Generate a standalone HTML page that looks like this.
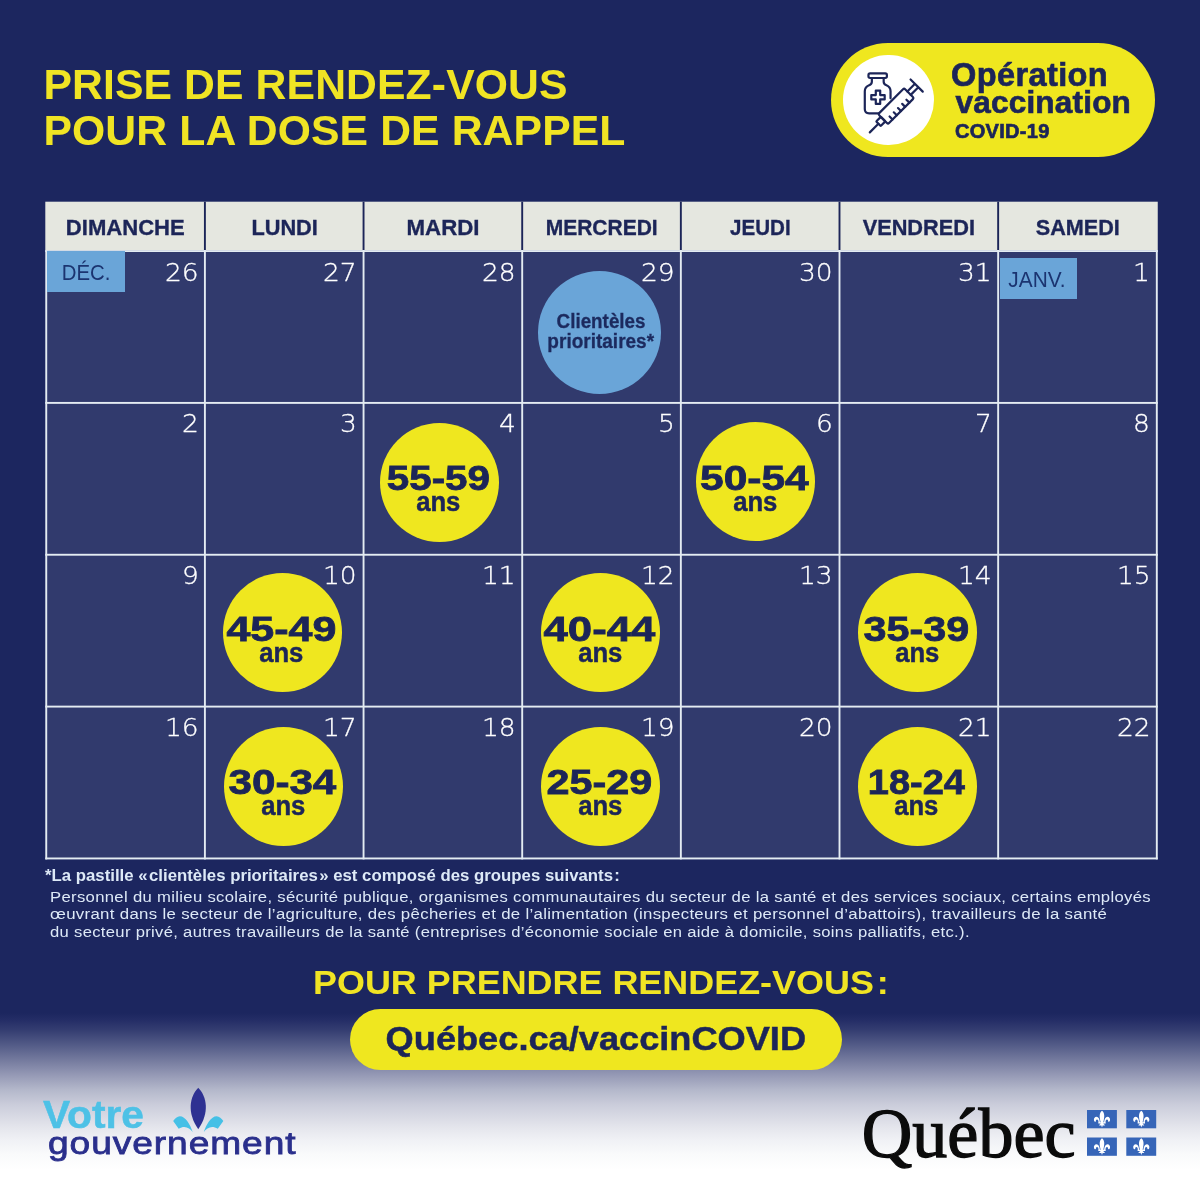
<!DOCTYPE html>
<html lang="fr">
<head>
<meta charset="utf-8">
<title>Prise de rendez-vous pour la dose de rappel</title>
<style>
*{margin:0;padding:0;box-sizing:border-box}
html,body{width:1200px;height:1200px;overflow:hidden}
body{position:relative;font-family:"Liberation Sans",sans-serif;
background:linear-gradient(to bottom,#1c265f 0px, #1c265f 1013px, #242d66 1020px, #343d71 1030px, #535b87 1045px, #747a9e 1060px, #9599b5 1075px, #b4b8cb 1090px, #cbcddb 1105px, #e4e5ec 1127px, #f0f1f5 1140px, #f9fafb 1154px, #ffffff 1170px);}
.abs{position:absolute;white-space:nowrap;line-height:1}
.sx{display:inline-block;transform-origin:0 50%}
/* title */
.title{left:46px;font-weight:bold;color:#f0e424;font-size:42.7px;letter-spacing:0.12px}
/* badge */
.badge{left:831px;top:43px;width:324px;height:114px;border-radius:57px;background:#efe71f}
.badge .disc{position:absolute;left:12px;top:11.5px;width:90.5px;height:90.5px;border-radius:50%;background:#fff}
.badge .t{color:#1c2558;font-weight:bold;-webkit-text-stroke:0.7px #1c2558}
/* calendar */
.cal{background:none}
.grid{position:absolute;left:0;top:0}
.hd{position:absolute;color:#1c2558;font-weight:bold;-webkit-text-stroke:0.35px #1c2558;font-size:22px;text-align:center;line-height:51.4px;overflow:hidden}
.hd .sx{transform-origin:50% 50%}
.cell{position:absolute}
.num{position:absolute;right:5.6px;top:8.6px;color:#fff;font-size:24.8px;transform:scaleX(1.065);transform-origin:100% 50%;line-height:1;font-family:"DejaVu Sans Light","DejaVu Sans","Liberation Sans",sans-serif;font-weight:200;-webkit-text-stroke:0.3px #fff}
.mois{position:absolute;background:#6aa5d8;color:#1b3470;font-size:21.8px;line-height:43.7px;text-align:center;overflow:hidden}
.mois .sx{transform-origin:50% 50%;transform:scaleX(0.935)}
.dot{position:absolute;width:119px;height:119px;border-radius:50%;background:#efe71f;color:#1c2558;text-align:center;font-weight:bold}
.dot b{position:absolute;left:0;width:100%;text-align:center;line-height:1}
.dot .sx{transform-origin:50% 50%}
.dot .a{left:-1.2px;top:38.3px;font-size:35.5px;-webkit-text-stroke:0.8px #1c2558}
.dot .a .sx{transform:scaleX(1.14)}
.dot .b{left:-0.8px;top:66.3px;font-size:27px;-webkit-text-stroke:0.5px #1c2558}
.dot .b .sx{transform:scaleX(0.95)}
.dot.pri{width:123px;height:123px;background:#6aa5d8;color:#1c2a5e;font-size:19.5px}
.dot.pri b{-webkit-text-stroke:0.3px #1c2a5e}
.dot.pri .p1{top:41.2px;left:1px}
.dot.pri .p2{top:61.2px;left:1.2px}
.dot.pri .p1 .sx{transform:scaleX(0.965)}
.dot.pri .p2 .sx{transform:scaleX(0.975)}
/* footnote */
.note{color:#dde9f7;font-size:16px}
/* cta */
.cta{color:#f0e424;font-weight:bold;font-size:33.9px}
.url{left:350px;top:1009px;width:492px;height:60.7px;border-radius:30.4px;background:#efe71f;color:#1c2558;font-weight:bold;font-size:33.9px;text-align:center;line-height:59.1px;-webkit-text-stroke:0.5px #1c2558}
</style>
</head>
<body>

<!-- TITLE -->
<h1 class="abs title" style="left:43.4px;top:63.4px"><span class="sx" id="t1">PRISE DE RENDEZ-VOUS</span></h1>
<h1 class="abs title" style="left:43.4px;top:108.6px"><span class="sx" id="t2">POUR LA DOSE DE RAPPEL</span></h1>

<!-- BADGE -->
<div class="abs badge">
  <div class="disc"><svg viewBox="0 0 1200 1200" width="110" height="110" style="position:absolute;left:-8px;top:-9.5px;overflow:visible" fill="none" stroke="#1c2558" stroke-width="24" stroke-linecap="round" stroke-linejoin="round">
<rect x="365" y="310" width="201" height="50" rx="18"/>
<path d="M402 362 V402 Q402 428 372 440 Q325 458 325 505 V698 Q325 745 372 745 H478"/>
<path d="M531 362 V402 Q531 428 561 440 Q606 458 606 505 V582"/>
<path d="M445 497 h48 v49 h49 v48 h-49 v49 h-48 v-49 h-49 v-48 h49 z"/>
<g transform="translate(666 667) rotate(-45)">
<rect x="-200" y="-76" width="400" height="152" rx="16"/>
<path d="M-130 76 v-46 M-65 76 v-46 M0 76 v-46 M65 76 v-46 M130 76 v-46"/>
<rect x="-272" y="-35" width="72" height="70" rx="8"/>
<path d="M-272 0 H-405"/>
<path d="M200 -26 H318 M200 26 H318 M318 -94 V94"/>
</g>
</svg></div>
  <div class="abs t" style="left:120px;top:15.7px;font-size:32.5px;letter-spacing:0.4px"><span class="sx" id="b1">Opération</span></div>
  <div class="abs t" style="left:124.5px;top:44px;font-size:31.5px;letter-spacing:0.2px"><span class="sx" id="b2">vaccination</span></div>
  <div class="abs t" style="left:124px;top:78.4px;font-size:20px;letter-spacing:0.3px"><span class="sx" id="b3">COVID-19</span></div>
</div>

<!-- CALENDAR -->
<div class="abs cal" id="cal" style="left:45px;top:201px;width:1114px;height:660px">
<svg class="grid" width="1114" height="660" viewBox="0 0 1114 660"><rect x="0.3" y="0.7" width="1112.45" height="48.9" fill="#e5e7e0"/><rect x="0.3" y="49.1" width="1112.45" height="609.3" fill="#313a6d"/><rect x="158.95" y="0.7" width="1.9" height="48.4" fill="#1c2558"/><rect x="317.6" y="0.7" width="1.9" height="48.4" fill="#1c2558"/><rect x="476.25" y="0.7" width="1.9" height="48.4" fill="#1c2558"/><rect x="634.9" y="0.7" width="1.9" height="48.4" fill="#1c2558"/><rect x="793.55" y="0.7" width="1.9" height="48.4" fill="#1c2558"/><rect x="952.2" y="0.7" width="1.9" height="48.4" fill="#1c2558"/><rect x="0.3" y="49.1" width="1.9" height="609.3" fill="#e4ecf2"/><rect x="158.95" y="49.1" width="1.9" height="609.3" fill="#e4ecf2"/><rect x="317.6" y="49.1" width="1.9" height="609.3" fill="#e4ecf2"/><rect x="476.25" y="49.1" width="1.9" height="609.3" fill="#e4ecf2"/><rect x="634.9" y="49.1" width="1.9" height="609.3" fill="#e4ecf2"/><rect x="793.55" y="49.1" width="1.9" height="609.3" fill="#e4ecf2"/><rect x="952.2" y="49.1" width="1.9" height="609.3" fill="#e4ecf2"/><rect x="1110.85" y="49.1" width="1.9" height="609.3" fill="#e4ecf2"/><rect x="0.3" y="49.1" width="1112.45" height="1.9" fill="#e4ecf2"/><rect x="0.3" y="200.95" width="1112.45" height="1.9" fill="#e4ecf2"/><rect x="0.3" y="352.8" width="1112.45" height="1.9" fill="#e4ecf2"/><rect x="0.3" y="504.65" width="1112.45" height="1.9" fill="#e4ecf2"/><rect x="0.3" y="656.5" width="1112.45" height="1.9" fill="#e4ecf2"/></svg>
<div class="hd" style="left:2.2px;width:156.75px;top:0.7px;height:48.4px"><span class="sx hx" style="transform:scaleX(1.003)">DIMANCHE</span></div>
<div class="hd" style="left:160.85px;width:156.75px;top:0.7px;height:48.4px"><span class="sx hx" style="transform:scaleX(0.988)">LUNDI</span></div>
<div class="hd" style="left:319.5px;width:156.75px;top:0.7px;height:48.4px"><span class="sx hx" style="transform:scaleX(1.012)">MARDI</span></div>
<div class="hd" style="left:478.15px;width:156.75px;top:0.7px;height:48.4px"><span class="sx hx" style="transform:scaleX(0.955)">MERCREDI</span></div>
<div class="hd" style="left:636.8px;width:156.75px;top:0.7px;height:48.4px"><span class="sx hx" style="transform:scaleX(0.935)">JEUDI</span></div>
<div class="hd" style="left:795.45px;width:156.75px;top:0.7px;height:48.4px"><span class="sx hx" style="transform:scaleX(0.989)">VENDREDI</span></div>
<div class="hd" style="left:954.1px;width:156.75px;top:0.7px;height:48.4px"><span class="sx hx" style="transform:scaleX(0.982)">SAMEDI</span></div>
<div class="cell" style="left:2.2px;top:51px;width:156.75px;height:149.95px"><span class="mois" style="left:0;top:-0.7px;width:77.8px;height:40.8px"><span class="sx mx">DÉC.</span></span><span class="num">26</span></div>
<div class="cell" style="left:160.85px;top:51px;width:156.75px;height:149.95px"><span class="num">27</span></div>
<div class="cell" style="left:319.5px;top:51px;width:156.75px;height:149.95px"><span class="num">28</span></div>
<div class="cell" style="left:478.15px;top:51px;width:156.75px;height:149.95px"><span class="num">29</span><div class="dot pri" style="left:15.0px;top:18.8px"><b class="p1"><span class="sx px">Clientèles</span></b><b class="p2"><span class="sx px">prioritaires*</span></b></div></div>
<div class="cell" style="left:636.8px;top:51px;width:156.75px;height:149.95px"><span class="num">30</span></div>
<div class="cell" style="left:795.45px;top:51px;width:156.75px;height:149.95px"><span class="num">31</span></div>
<div class="cell" style="left:954.1px;top:51px;width:156.75px;height:149.95px"><span class="mois" style="left:0.5px;top:5.9px;width:77.5px;height:41.3px"><span class="sx mx" style="transform:scaleX(0.955);left:-1px;position:relative">JANV.</span></span><span class="num">1</span></div>
<div class="cell" style="left:2.2px;top:202.85px;width:156.75px;height:149.95px"><span class="num">2</span></div>
<div class="cell" style="left:160.85px;top:202.85px;width:156.75px;height:149.95px"><span class="num">3</span></div>
<div class="cell" style="left:319.5px;top:202.85px;width:156.75px;height:149.95px"><span class="num">4</span><div class="dot" style="left:15.3px;top:19.0px"><b class="a"><span class="sx ax" style="transform:scaleX(1.138)">55-59</span></b><b class="b"><span class="sx bx">ans</span></b></div></div>
<div class="cell" style="left:478.15px;top:202.85px;width:156.75px;height:149.95px"><span class="num">5</span></div>
<div class="cell" style="left:636.8px;top:202.85px;width:156.75px;height:149.95px"><span class="num">6</span><div class="dot" style="left:14.5px;top:18.6px"><b class="a"><span class="sx ax" style="transform:scaleX(1.197)">50-54</span></b><b class="b"><span class="sx bx">ans</span></b></div></div>
<div class="cell" style="left:795.45px;top:202.85px;width:156.75px;height:149.95px"><span class="num">7</span></div>
<div class="cell" style="left:954.1px;top:202.85px;width:156.75px;height:149.95px"><span class="num">8</span></div>
<div class="cell" style="left:2.2px;top:354.7px;width:156.75px;height:149.95px"><span class="num">9</span></div>
<div class="cell" style="left:160.85px;top:354.7px;width:156.75px;height:149.95px"><span class="num">10</span><div class="dot" style="left:16.8px;top:17.6px"><b class="a"><span class="sx ax" style="transform:scaleX(1.212)">45-49</span></b><b class="b"><span class="sx bx">ans</span></b></div></div>
<div class="cell" style="left:319.5px;top:354.7px;width:156.75px;height:149.95px"><span class="num">11</span></div>
<div class="cell" style="left:478.15px;top:354.7px;width:156.75px;height:149.95px"><span class="num">12</span><div class="dot" style="left:18.3px;top:17.6px"><b class="a"><span class="sx ax" style="transform:scaleX(1.23)">40-44</span></b><b class="b"><span class="sx bx">ans</span></b></div></div>
<div class="cell" style="left:636.8px;top:354.7px;width:156.75px;height:149.95px"><span class="num">13</span></div>
<div class="cell" style="left:795.45px;top:354.7px;width:156.75px;height:149.95px"><span class="num">14</span><div class="dot" style="left:17.8px;top:17.6px"><b class="a"><span class="sx ax" style="transform:scaleX(1.164)">35-39</span></b><b class="b"><span class="sx bx">ans</span></b></div></div>
<div class="cell" style="left:954.1px;top:354.7px;width:156.75px;height:149.95px"><span class="num">15</span></div>
<div class="cell" style="left:2.2px;top:506.55px;width:156.75px;height:149.95px"><span class="num">16</span></div>
<div class="cell" style="left:160.85px;top:506.55px;width:156.75px;height:149.95px"><span class="num">17</span><div class="dot" style="left:18.3px;top:19.4px"><b class="a"><span class="sx ax" style="transform:scaleX(1.188)">30-34</span></b><b class="b"><span class="sx bx">ans</span></b></div></div>
<div class="cell" style="left:319.5px;top:506.55px;width:156.75px;height:149.95px"><span class="num">18</span></div>
<div class="cell" style="left:478.15px;top:506.55px;width:156.75px;height:149.95px"><span class="num">19</span><div class="dot" style="left:18.1px;top:19.4px"><b class="a"><span class="sx ax" style="transform:scaleX(1.164)">25-29</span></b><b class="b"><span class="sx bx">ans</span></b></div></div>
<div class="cell" style="left:636.8px;top:506.55px;width:156.75px;height:149.95px"><span class="num">20</span></div>
<div class="cell" style="left:795.45px;top:506.55px;width:156.75px;height:149.95px"><span class="num">21</span><div class="dot" style="left:17.2px;top:19.4px"><b class="a"><span class="sx ax" style="transform:scaleX(1.069)">18-24</span></b><b class="b"><span class="sx bx">ans</span></b></div></div>
<div class="cell" style="left:954.1px;top:506.55px;width:156.75px;height:149.95px"><span class="num">22</span></div>
</div>

<!-- FOOTNOTE -->
<p class="abs note" style="left:45.3px;top:866.7px;font-weight:bold;font-size:16.5px"><span class="sx" id="n0" style="transform:scaleX(1.017)">*La pastille «&#8202;clientèles prioritaires&#8202;» est composé des groupes suivants&#8202;:</span></p>
<p class="abs note" style="left:50px;top:888.9px;letter-spacing:0.3px;font-size:15.5px"><span class="sx" id="n1" style="transform:scaleX(1.075)">Personnel du milieu scolaire, sécurité publique, organismes communautaires du secteur de la santé et des services sociaux, certains employés</span></p>
<p class="abs note" style="left:50px;top:906.2px;letter-spacing:0.3px;font-size:15.5px"><span class="sx" id="n2" style="transform:scaleX(1.083)">œuvrant dans le secteur de l’agriculture, des pêcheries et de l’alimentation (inspecteurs et personnel d’abattoirs), travailleurs de la santé</span></p>
<p class="abs note" style="left:50px;top:923.5px;letter-spacing:0.3px;font-size:15.5px"><span class="sx" id="n3" style="transform:scaleX(1.071)">du secteur privé, autres travailleurs de la santé (entreprises d’économie sociale en aide à domicile, soins palliatifs, etc.).</span></p>

<!-- CTA -->
<div class="abs cta" style="left:312.5px;top:966.3px"><span class="sx" id="c1" style="transform:scaleX(1.06)">POUR PRENDRE RENDEZ-VOUS&#8202;:</span></div>
<div class="abs url"><span class="sx" id="c2" style="transform-origin:50% 50%;transform:scaleX(1.068)">Québec.ca/vaccinCOVID</span></div>

<!-- LOGOS -->
<div class="abs" id="votre" style="left:43.3px;top:1094.6px;color:#4dc1e6;font-weight:bold;font-size:39.5px;-webkit-text-stroke:0.5px #4dc1e6"><span class="sx" id="v1" style="transform:scaleX(1.03)">Votre</span></div>
<div class="abs" id="gouv" style="left:48px;top:1127.2px;color:#2a2f8c;font-size:32px;letter-spacing:0.8px;-webkit-text-stroke:0.8px #2a2f8c"><span class="sx" id="v2" style="transform:scaleX(1.16)">gouvernement</span></div>
<svg class="abs" style="left:165px;top:1080px" width="70" height="60" viewBox="0 0 1200 1029">
<path d="M570 135 C715 280 770 560 570 845 C370 560 425 280 570 135 Z" fill="#2e3192"/>
<path d="M140 705 Q185 630 255 620 C350 620 430 760 475 890 C420 820 340 770 235 835 Z" fill="#45c0e6"/>
<path d="M1000 705 Q955 630 885 620 C790 620 710 760 665 890 C720 820 800 770 905 835 Z" fill="#45c0e6"/>
</svg>
<div class="abs" id="qc" style="left:861.8px;top:1099.2px;color:#0b0b0b;font-family:'Liberation Serif',serif;font-size:70px;-webkit-text-stroke:1.3px #0b0b0b"><span class="sx" id="q1" style="transform:scaleX(1.0)">Québec</span></div>
<svg class="abs" id="flags" style="left:1087.1px;top:1110px" width="70" height="47" viewBox="0 0 70 47">
<g transform="translate(0 0)"><rect width="29.9" height="18.3" fill="#3665b8"/>
<path fill="#fff" d="M15 0.8 C17.6 3 17.9 6 16.3 12.3 L13.7 12.3 C12.1 6 12.4 3 15 0.8 Z M12.9 12.3 C12.6 9 11.4 6.7 9.6 6.7 C7.6 6.7 6.6 8.6 7 10.4 C7.3 11.6 8.2 12 9 11.6 C8.6 10.4 9.2 9.4 10 9.4 C11 9.4 11.5 10.6 11.5 12.3 Z M17.1 12.3 C17.4 9 18.6 6.7 20.4 6.7 C22.4 6.7 23.4 8.6 23 10.4 C22.7 11.6 21.8 12 21 11.6 C21.4 10.4 20.8 9.4 20 9.4 C19 9.4 18.5 10.6 18.5 12.3 Z M11.3 12.3 H18.7 V13.6 H11.3 Z M13.6 13.6 H16.4 C16.5 14.3 17.2 14.8 18.1 14.9 C17.5 15.8 16.4 15.8 15.8 15.2 L15 17.5 L14.2 15.2 C13.6 15.8 12.5 15.8 11.9 14.9 C12.8 14.8 13.5 14.3 13.6 13.6 Z"/></g>
<g transform="translate(39.3 0)"><rect width="29.9" height="18.3" fill="#3665b8"/>
<path fill="#fff" d="M15 0.8 C17.6 3 17.9 6 16.3 12.3 L13.7 12.3 C12.1 6 12.4 3 15 0.8 Z M12.9 12.3 C12.6 9 11.4 6.7 9.6 6.7 C7.6 6.7 6.6 8.6 7 10.4 C7.3 11.6 8.2 12 9 11.6 C8.6 10.4 9.2 9.4 10 9.4 C11 9.4 11.5 10.6 11.5 12.3 Z M17.1 12.3 C17.4 9 18.6 6.7 20.4 6.7 C22.4 6.7 23.4 8.6 23 10.4 C22.7 11.6 21.8 12 21 11.6 C21.4 10.4 20.8 9.4 20 9.4 C19 9.4 18.5 10.6 18.5 12.3 Z M11.3 12.3 H18.7 V13.6 H11.3 Z M13.6 13.6 H16.4 C16.5 14.3 17.2 14.8 18.1 14.9 C17.5 15.8 16.4 15.8 15.8 15.2 L15 17.5 L14.2 15.2 C13.6 15.8 12.5 15.8 11.9 14.9 C12.8 14.8 13.5 14.3 13.6 13.6 Z"/></g>
<g transform="translate(0 27.5)"><rect width="29.9" height="18.3" fill="#3665b8"/>
<path fill="#fff" d="M15 0.8 C17.6 3 17.9 6 16.3 12.3 L13.7 12.3 C12.1 6 12.4 3 15 0.8 Z M12.9 12.3 C12.6 9 11.4 6.7 9.6 6.7 C7.6 6.7 6.6 8.6 7 10.4 C7.3 11.6 8.2 12 9 11.6 C8.6 10.4 9.2 9.4 10 9.4 C11 9.4 11.5 10.6 11.5 12.3 Z M17.1 12.3 C17.4 9 18.6 6.7 20.4 6.7 C22.4 6.7 23.4 8.6 23 10.4 C22.7 11.6 21.8 12 21 11.6 C21.4 10.4 20.8 9.4 20 9.4 C19 9.4 18.5 10.6 18.5 12.3 Z M11.3 12.3 H18.7 V13.6 H11.3 Z M13.6 13.6 H16.4 C16.5 14.3 17.2 14.8 18.1 14.9 C17.5 15.8 16.4 15.8 15.8 15.2 L15 17.5 L14.2 15.2 C13.6 15.8 12.5 15.8 11.9 14.9 C12.8 14.8 13.5 14.3 13.6 13.6 Z"/></g>
<g transform="translate(39.3 27.5)"><rect width="29.9" height="18.3" fill="#3665b8"/>
<path fill="#fff" d="M15 0.8 C17.6 3 17.9 6 16.3 12.3 L13.7 12.3 C12.1 6 12.4 3 15 0.8 Z M12.9 12.3 C12.6 9 11.4 6.7 9.6 6.7 C7.6 6.7 6.6 8.6 7 10.4 C7.3 11.6 8.2 12 9 11.6 C8.6 10.4 9.2 9.4 10 9.4 C11 9.4 11.5 10.6 11.5 12.3 Z M17.1 12.3 C17.4 9 18.6 6.7 20.4 6.7 C22.4 6.7 23.4 8.6 23 10.4 C22.7 11.6 21.8 12 21 11.6 C21.4 10.4 20.8 9.4 20 9.4 C19 9.4 18.5 10.6 18.5 12.3 Z M11.3 12.3 H18.7 V13.6 H11.3 Z M13.6 13.6 H16.4 C16.5 14.3 17.2 14.8 18.1 14.9 C17.5 15.8 16.4 15.8 15.8 15.2 L15 17.5 L14.2 15.2 C13.6 15.8 12.5 15.8 11.9 14.9 C12.8 14.8 13.5 14.3 13.6 13.6 Z"/></g>
</svg>

</body>
</html>
